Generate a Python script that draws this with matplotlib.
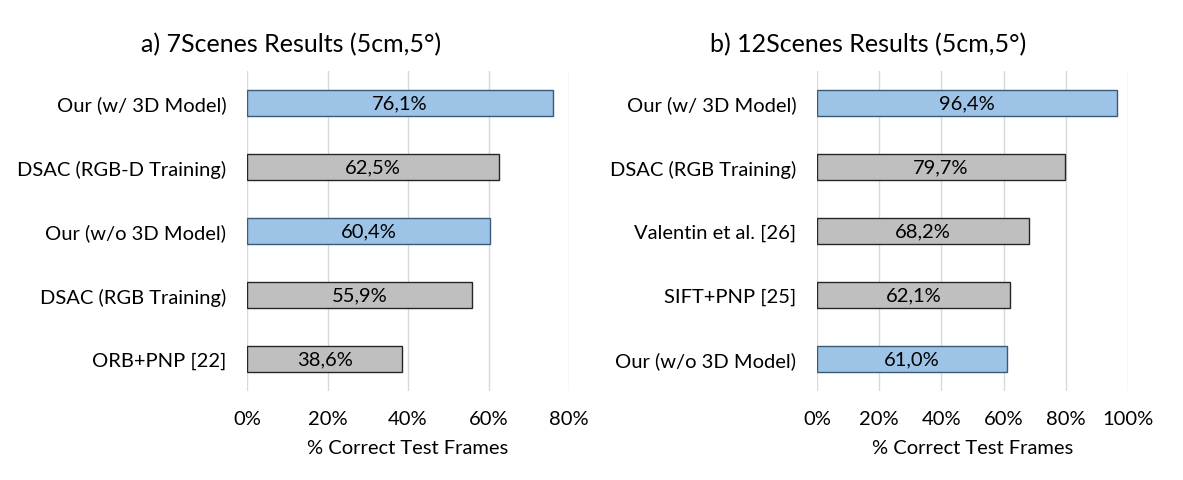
import matplotlib.pyplot as plt
from matplotlib.ticker import FuncFormatter

plt.rcParams['font.family'] = ['Lato', 'DejaVu Sans']

# data (top to bottom)
left_title = "a) 7Scenes Results (5cm,5°)"
left_methods = ["Our (w/ 3D Model)", "DSAC (RGB-D Training)", "Our (w/o 3D Model)",
                "DSAC (RGB Training)", "ORB+PNP [22]"]
left_values = [76.1, 62.5, 60.4, 55.9, 38.6]
left_ours = [True, False, True, False, False]

right_title = "b) 12Scenes Results (5cm,5°)"
right_methods = ["Our (w/ 3D Model)", "DSAC (RGB Training)", "Valentin et al. [26]",
                 "SIFT+PNP [25]", "Our (w/o 3D Model)"]
right_values = [96.4, 79.7, 68.2, 62.1, 61.0]
right_ours = [True, False, False, False, True]

BLUE = '#9DC3E6'
BLUE_EDGE = '#3C5A78'
GRAY = '#BFBFBF'
GRAY_EDGE = '#262626'

fig = plt.figure(figsize=(11.83, 4.81), dpi=100)
ax1 = fig.add_axes([247 / 1183, 1 - 392 / 481, 322 / 1183, 320 / 481])
ax2 = fig.add_axes([817 / 1183, 1 - 392 / 481, 311 / 1183, 320 / 481])


def draw(ax, title, title_x, methods, values, ours, xmax):
    y = list(range(len(methods)))[::-1]
    colors = [BLUE if o else GRAY for o in ours]
    edges = [BLUE_EDGE if o else GRAY_EDGE for o in ours]
    ax.barh(y, values, height=0.41, color=colors, edgecolor=edges, linewidth=1, zorder=3)
    for yi, v in zip(y, values):
        ax.text(v / 2, yi, f"{v:.1f}%".replace('.', ','), ha='center', va='center',
                fontsize=14.5, color='black', zorder=4)
    ax.set_yticks(y)
    ax.set_yticklabels(methods, fontsize=14.5)
    ax.set_ylim(-0.5, len(methods) - 0.5)
    ax.set_xlim(0, xmax)
    ax.set_xticks(range(0, xmax + 1, 20))
    ax.xaxis.set_major_formatter(FuncFormatter(lambda v, p: f"{int(v)}%"))
    ax.tick_params(axis='x', labelsize=14.5, length=0, pad=14)
    ax.tick_params(axis='y', length=0, pad=15)
    ax.grid(axis='x', color='#D9D9D9', linewidth=1, zorder=0)
    for s in ax.spines.values():
        s.set_visible(False)
    ax.set_xlabel("% Correct Test Frames", fontsize=14.5, labelpad=8)
    fig.text(title_x / 1183, 1 - 45 / 481, title, fontsize=18, ha='center', va='center')


draw(ax1, left_title, 291, left_methods, left_values, left_ours, 80)
draw(ax2, right_title, 868, right_methods, right_values, right_ours, 100)

fig.savefig('out.png', dpi=100, facecolor='white')
